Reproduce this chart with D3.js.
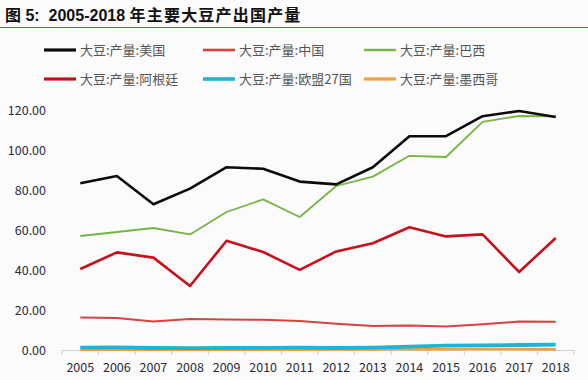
<!DOCTYPE html>
<html>
<head>
<meta charset="utf-8">
<script src="https://cdn.jsdelivr.net/npm/d3@7"></script>
<style>
  body { margin: 0; background: #fbfbfb; }
  svg { display: block; }
</style>
</head>
<body>
<div id="chart"></div>
<script>
// Data
const years = ["2005", "2006", "2007", "2008", "2009", "2010", "2011", "2012", "2013", "2014", "2015", "2016", "2017", "2018"];
const usa = [83.4, 87.0, 72.9, 80.7, 91.4, 90.6, 84.2, 82.8, 91.4, 106.9, 106.9, 116.9, 119.5, 116.5];
const china = [16.3, 16.0, 14.3, 15.5, 15.2, 15.1, 14.5, 13.1, 12.0, 12.2, 11.8, 12.9, 14.2, 14.1];
const brazil = [57.0, 59.0, 61.0, 57.8, 69.0, 75.3, 66.5, 82.0, 86.7, 97.1, 96.5, 114.1, 117.0, 116.8];
const argentina = [40.5, 48.8, 46.2, 32.0, 54.6, 49.0, 40.1, 49.3, 53.4, 61.4, 56.8, 57.8, 39.0, 56.0];
const eu27 = [1.2, 1.3, 1.0, 0.9, 1.0, 1.1, 1.2, 1.0, 1.2, 1.7, 2.2, 2.3, 2.5, 2.7];
const mexico = [0.2, 0.1, 0.1, 0.2, 0.1, 0.2, 0.2, 0.3, 0.3, 0.4, 0.4, 0.5, 0.4, 0.3];
const yTicks = [0, 20, 40, 60, 80, 100, 120];

const series = [
  { name: "大豆:产量:美国", values: usa, color: "#0b0b0b", width: 2.6 },
  { name: "大豆:产量:中国", values: china, color: "#d8423e", width: 2 },
  { name: "大豆:产量:巴西", values: brazil, color: "#76b543", width: 1.8 },
  { name: "大豆:产量:阿根廷", values: argentina, color: "#c8101a", width: 2.6 },
  { name: "大豆:产量:欧盟27国", values: eu27, color: "#1eb4d2", width: 3.8 },
  { name: "大豆:产量:墨西哥", values: mexico, color: "#f3a03a", width: 2.6 }
];

const width = 588, height = 380;
const margin = { top: 110, right: 14, bottom: 30, left: 62 };
const w = width - margin.left - margin.right;
const h = height - margin.top - margin.bottom;
const font = "'Noto Sans CJK SC', 'Noto Sans', sans-serif";
const titleFont = "'Liberation Sans', 'Noto Sans CJK SC', sans-serif";

const svg = d3.select("#chart").append("svg")
  .attr("width", width)
  .attr("height", height)
  .style("background", "#fbfbfb");

// Title and rule under it
const title = svg.append("text")
  .attr("x", 5)
  .attr("y", 21)
  .attr("font-family", titleFont)
  .attr("font-weight", "bold")
  .attr("font-size", 16)
  .attr("fill", "#111");
title.append("tspan").text("图 5:\u00a0\u00a02005-2018 ");
title.append("tspan").attr("letter-spacing", 1.2).text("年主要大豆产出国产量");

svg.append("line")
  .attr("x1", 0).attr("x2", width)
  .attr("y1", 27.5).attr("y2", 27.5)
  .attr("stroke", "#b0503a")
  .attr("stroke-width", 1.2);

const g = svg.append("g")
  .attr("transform", "translate(" + margin.left + "," + margin.top + ")");

const x = d3.scaleBand()
  .domain(years)
  .range([0, w]);

const y = d3.scaleLinear()
  .domain([0, 120])
  .range([h, 0]);

// X axis: ticks sit between categories
const xAxis = g.append("g")
  .attr("transform", "translate(0," + h + ")")
  .call(d3.axisBottom(x).tickSize(0).tickPadding(13));
xAxis.select(".domain").attr("stroke", "#d0d0d0");
xAxis.selectAll("text")
  .attr("font-family", font)
  .attr("font-size", 12.5)
  .attr("fill", "#2a2a3a");

g.append("g")
  .selectAll("line")
  .data(years.concat(["end"]))
  .join("line")
  .attr("x1", (d, i) => i * x.step())
  .attr("x2", (d, i) => i * x.step())
  .attr("y1", h)
  .attr("y2", h + 5)
  .attr("stroke", "#d0d0d0");

// Y axis labels only
const yAxis = g.append("g")
  .call(d3.axisLeft(y).tickValues(yTicks).tickSize(0).tickPadding(16).tickFormat(d3.format(".2f")));
yAxis.select(".domain").remove();
yAxis.selectAll("text")
  .attr("font-family", font)
  .attr("font-size", 12.5)
  .attr("fill", "#2a2a3a");

const line = d3.line()
  .x((d, i) => x(years[i]) + x.bandwidth() / 2)
  .y(d => y(d));

// draw bottom series first so the larger ones sit on top
const order = [5, 4, 1, 3, 2, 0];
g.selectAll("path.series")
  .data(order.map(i => series[i]))
  .join("path")
  .attr("class", "series")
  .attr("fill", "none")
  .attr("stroke", d => d.color)
  .attr("stroke-width", d => d.width)
  .attr("stroke-linejoin", "round")
  .attr("d", d => line(d.values));

// Legend: 3 columns, 2 rows
const legendX = [44, 203, 364];
const legendY = [50, 79];
const legend = svg.append("g")
  .selectAll("g")
  .data(series)
  .join("g")
  .attr("transform", (d, i) => "translate(" + legendX[i % 3] + "," + legendY[Math.floor(i / 3)] + ")");

legend.append("line")
  .attr("x1", 0).attr("x2", 32)
  .attr("y1", 0).attr("y2", 0)
  .attr("stroke", d => d.color)
  .attr("stroke-width", d => Math.min(d.width + 0.6, 3.6));

legend.append("text")
  .attr("x", 36)
  .attr("y", 0)
  .attr("dy", "0.35em")
  .attr("font-family", font)
  .attr("font-size", 13)
  .attr("fill", "#555")
  .text(d => d.name);
</script>
</body>
</html>
